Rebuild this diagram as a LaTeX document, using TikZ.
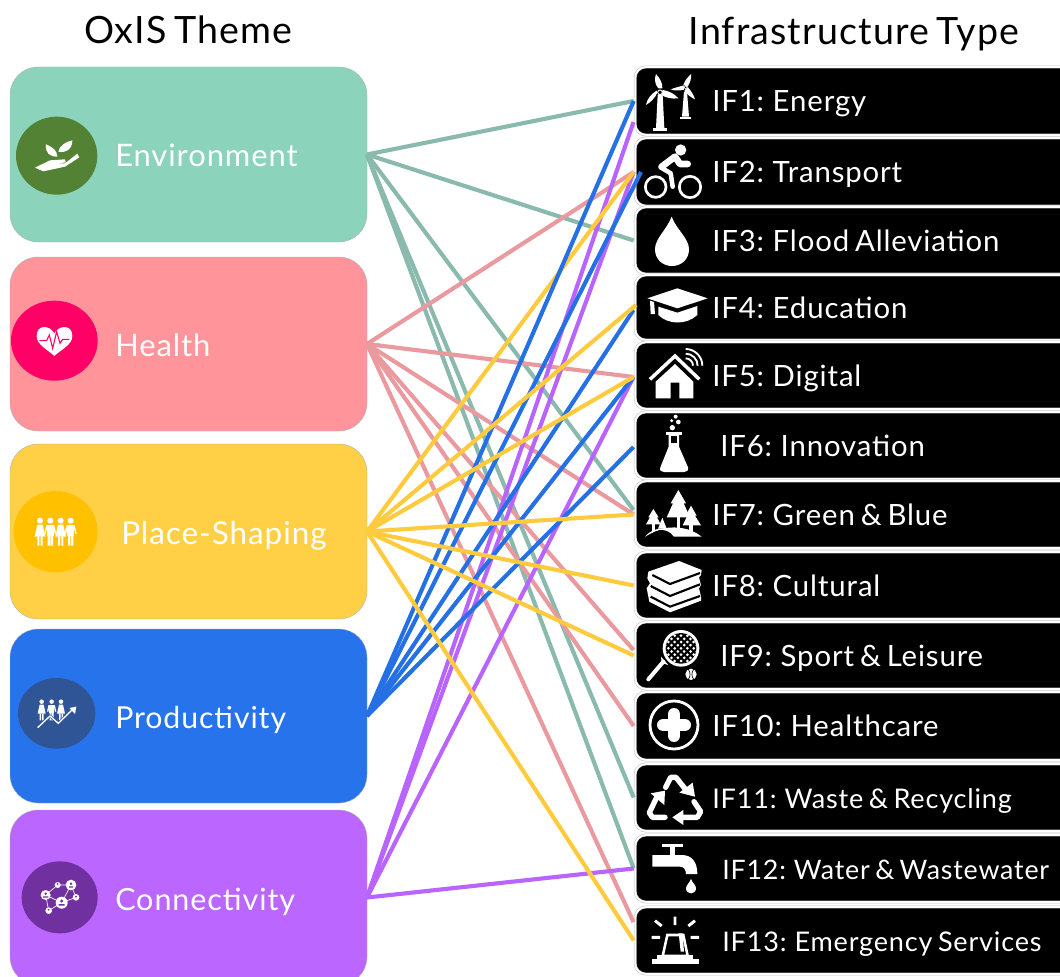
\documentclass[tikz,border=0pt]{standalone}
\usepackage{fontspec}
\setmainfont{Lato}[LetterSpace=3,WordSpace=0.7]
\usetikzlibrary{calc}
\definecolor{envc}{HTML}{8BD3BB}
\definecolor{heac}{HTML}{FF949A}
\definecolor{plac}{HTML}{FFD045}
\definecolor{proc}{HTML}{2673EC}
\definecolor{conc}{HTML}{BB66FF}
\definecolor{envl}{HTML}{8ABAAE}
\definecolor{heal}{HTML}{EA9A9E}
\definecolor{plal}{HTML}{FFCB3E}
\definecolor{prol}{HTML}{2570E5}
\definecolor{conl}{HTML}{B964FF}
\definecolor{envi}{HTML}{548235}
\definecolor{heai}{HTML}{FF0066}
\definecolor{plai}{HTML}{FFC000}
\definecolor{proi}{HTML}{2F5597}
\definecolor{coni}{HTML}{7030A0}
\tikzset{
  themebox/.style={rounded corners=21pt,draw=black!30,line width=.3pt,outer sep=0pt,inner sep=0pt,minimum width=267.75pt},
  ifbox/.style={rounded corners=8pt,fill=black,draw=black!25,double=white,double distance=1.3pt,line width=.4pt,outer sep=1.1pt,inner sep=0pt,minimum width=341pt},
  iflabel/.style={anchor=base west,inner sep=0pt,text=white,font=\fontsize{22}{26}\selectfont},
  themelabel/.style={anchor=base west,inner sep=0pt,text=white,font=\fontsize{23.2}{28}\selectfont},
  titlelabel/.style={anchor=base,inner sep=0pt,text=black,font=\fontsize{28.2}{32}\selectfont},
  link/.style={line width=3.1pt},
  zoomA/.style={shift={(620,60)},x=.25pt,y=-.25pt},
  zoomB/.style={shift={(620,340)},x=.25pt,y=-.25pt},
  zoomC/.style={shift={(620,680)},x=.25pt,y=-.25pt},
  zoomD/.style={shift={(0,100)},x=.25pt,y=-.25pt},
  zoomE/.style={shift={(0,480)},x=.25pt,y=-.25pt},
  icl/.style={draw=white,line cap=round,line join=round},
}
\newcommand\ifitem[5]{% name, black top, black bottom, text x, label
  \node[ifbox,minimum height={(#3-#2+2)*.75pt}] (#1) at (862.5,{(#2+#3)/2}) {};
  \node[iflabel] (#1t) at (#4,{(#2+#3)/2+10.5}) {#5};
}
\newcommand\wom[2]{%
  \fill[white] (#1,#2) circle (9);
  \fill[white] (#1-8,#2+12)--(#1+8,#2+12)--(#1+16,#2+48)--(#1-16,#2+48)--cycle;
  \fill[white] (#1-8,#2+48) rectangle (#1-2,#2+75) (#1+2,#2+48) rectangle (#1+8,#2+75);
}
\newcommand\man[2]{%
  \fill[white] (#1,#2) circle (9);
  \fill[white] (#1-10,#2+12) rectangle (#1+10,#2+46);
  \fill[white] (#1-8,#2+46) rectangle (#1-1,#2+75) (#1+1,#2+46) rectangle (#1+8,#2+75);
  \draw[white,line width=1pt] (#1-10,#2+14)--(#1-16,#2+40) (#1+10,#2+14)--(#1+16,#2+40);
}
\newcommand\qarc[3]{(#1,#2-#3) .. controls (#1+.55*#3,#2-#3) and (#1+#3,#2-.55*#3) .. (#1+#3,#2)}
\begin{document}
\begin{tikzpicture}[x=.75pt,y=-.75pt]
\useasboundingbox (0,0) rectangle (1060,977);
\clip (0,0) rectangle (1060,977);
\node[titlelabel] (titleL) at (188,44) {OxIS Theme};
\node[titlelabel] (titleR) at (854,45) {Infrastructure Type};
% theme boxes
\node[themebox,fill=envc,minimum height=131.25pt] (env) at (188.5,154.5) {};
\node[themebox,fill=heac,minimum height=130.5pt] (hea) at (188.5,344) {};
\node[themebox,fill=plac,minimum height=131.25pt] (pla) at (188.5,531.5) {};
\node[themebox,fill=proc,minimum height=130.5pt] (pro) at (188.5,716) {};
\node[themebox,fill=conc,minimum height=131.25pt] (con) at (188.5,897.5) {};
\node[themelabel] (envt) at (115,167) {Environment};
\node[themelabel] (heat) at (115,356) {Health};
\node[themelabel] (plat) at (121,544) {\fontsize{23.6}{28}\selectfont Place-Shaping};
\node[themelabel] (prot) at (115,728) {\fontsize{22.7}{28}\selectfont Productivity};
\node[themelabel] (cont) at (115,910) {\fontsize{22.9}{28}\selectfont Connectivity};
% infrastructure boxes
\ifitem{ia}{68}{134}{712}{IF1: Energy}
\ifitem{ib}{139}{205}{712}{IF2: Transport}
\ifitem{ic}{208}{273}{712}{IF3: Flood Alleviation}
\ifitem{id}{276}{339}{712}{IF4: Education}
\ifitem{ie}{343}{408}{712}{IF5: Digital}
\ifitem{if}{413}{478}{720}{IF6: Innovation}
\ifitem{ig}{482}{547}{712}{IF7: Green \& Blue}
\ifitem{ih}{553}{618}{712}{IF8: Cultural}
\ifitem{ii}{623}{688}{720}{IF9: Sport \& Leisure}
\ifitem{ij}{693}{759}{712}{IF10: Healthcare}
\ifitem{ik}{765}{830}{712}{\fontsize{20.3}{24}\selectfont IF11: Waste \& Recycling}
\ifitem{il}{836}{901}{722}{\fontsize{20.1}{24}\selectfont IF12: Water \& Wastewater}
\ifitem{im}{908}{973}{722}{\fontsize{20.3}{24}\selectfont IF13: Emergency Services}
% free connector ends
\coordinate (ePurA) at (633.5,122);
\coordinate (eBluB) at (641,172);
\coordinate (eYelD) at (636,305);
\coordinate (eBluD) at (633.5,310);
\coordinate (eE) at (633.5,377);
\coordinate (eF) at (633.5,447);
\coordinate (eTeaG) at (633.5,510);
\coordinate (ePinI) at (633.5,650);
\coordinate (ePinM) at (633.5,922);
% connectors
\draw[link,envl] (env.east)--(ia.west);
\draw[link,envl] (env.east)--(ic.west);
\draw[link,envl] (env.east)--(eTeaG);
\draw[link,envl] (env.east)--(ik.west);
\draw[link,envl] (env.east)--(il.west);
\draw[link,heal] (hea.east)--(ib.west);
\draw[link,heal] (hea.east)--(eE);
\draw[link,heal] (hea.east)--(ig.west);
\draw[link,heal] (hea.east)--(ePinI);
\draw[link,heal] (hea.east)--(ij.west);
\draw[link,heal] (hea.east)--(ePinM);
\draw[link,conl] (con.east)--(ePurA);
\draw[link,conl] (con.east)--(ib.west);
\draw[link,conl] (con.east)--(eE);
\draw[link,conl] (con.east)--(il.west);
\draw[link,plal] (pla.east)--(ib.west);
\draw[link,prol] (pro.east)--(ia.west);
\draw[link,prol] (pro.east)--(eBluB);
\draw[link,prol] (pro.east)--(eBluD);
\draw[link,prol] (pro.east)--(eE);
\draw[link,prol] (pro.east)--(eF);
\draw[link,plal] (pla.east)--(eYelD);
\draw[link,plal] (pla.east)--(eE);
\draw[link,plal] (pla.east)--(ig.west);
\draw[link,plal] (pla.east)--(ih.west);
\draw[link,plal] (pla.east)--(ii.west);
\draw[link,plal] (pla.east)--(im.west);
% icons, right column
\begin{scope}[zoomA]
% wind turbines
\fill[white] (113,105)--(128,105)--(133,205)--(108,205)--cycle;
\fill[white] (100,203) rectangle (142,212);
\fill[white] (115,85) .. controls (102,70) and (104,55) .. (108,42) .. controls (120,55) and (128,70) .. (127,85)--cycle;
\fill[white] (128,90) .. controls (145,92) and (165,102) .. (175,115) .. controls (155,118) and (135,112) .. (124,105)--cycle;
\fill[white] (112,98) .. controls (105,115) and (90,128) .. (78,135) .. controls (80,118) and (95,100) .. (110,92)--cycle;
\draw[white,line width=.7pt,fill=black] (120,97) circle (7);
\fill[white] (192,95)--(201,95)--(207,170)--(186,170)--cycle;
\fill[white] (180,170) rectangle (212,177);
\fill[white] (190,75) .. controls (195,60) and (205,50) .. (213,42) .. controls (215,55) and (210,68) .. (203,80)--cycle;
\fill[white] (204,82) .. controls (212,92) and (222,105) .. (225,118) .. controls (212,112) and (200,102) .. (193,92)--cycle;
\fill[white] (191,76) .. controls (178,80) and (165,83) .. (152,88) .. controls (165,93) and (180,92) .. (192,89)--cycle;
\draw[white,line width=.6pt,fill=black] (197,82) circle (5);
% bike
\fill[white] (182,270) circle (17);
\draw[white,line width=2pt] (107,381) circle (31) (210,381) circle (32);
\draw[icl,line width=5pt] (125,320)--(165,290)--(180,312)--(203,312);
\draw[icl,line width=3.4pt] (122,322)--(152,340)--(158,380);
% drop
\fill[white] (155,470) .. controls (140,510) and (105,535) .. (105,568) .. controls (105,598) and (128,618) .. (156,618) .. controls (184,618) and (207,598) .. (207,568) .. controls (207,535) and (170,510) .. (155,470);
% graduation cap
\fill[white] (82,715)--(172,685)--(263,715)--(172,745)--cycle;
\fill[white] (115,740)--(172,758)--(232,738)--(232,765) .. controls (200,795) and (145,795) .. (115,765)--cycle;
\fill[white] (90,722)--(102,726)--(105,762)--(92,762)--cycle;
\end{scope}
\begin{scope}[zoomB]
% house
\draw[white,line width=2.6pt] (90,118)--(165,48)--(238,118);
\fill[white] (107,125)--(165,72)--(220,125)--(220,175)--(178,175)--(178,128)--(152,128)--(152,175)--(107,175)--cycle;
\draw[white,line width=1.4pt] \qarc{197}{77}{50} \qarc{197}{77}{36} \qarc{197}{77}{22};
% flask
\fill[white] (167,230) circle (6) (155,242) circle (5) (175,246) circle (7) (157,263) circle (8);
\fill[white] (138,276) rectangle (185,284);
\fill[white] (146,284)--(177,284)--(177,320)--(204,382) .. controls (206,392) and (200,396) .. (192,396)--(132,396) .. controls (124,396) and (118,392) .. (121,382)--(146,320)--cycle;
\fill[black] (153,288) rectangle (170,310);
% trees
\fill[white] (175,450)--(198,490)--(191,490)--(210,532)--(140,532)--(159,490)--(152,490)--cycle;
\fill[white] (170,530) rectangle (181,565);
\fill[white] (213,497)--(230,527)--(225,527)--(243,556)--(188,556)--(202,527)--(197,527)--cycle;
\fill[white] (208,555) rectangle (218,572);
\fill[white] (100,507)--(116,532)--(111,532)--(122,553)--(78,553)--(90,532)--(85,532)--cycle;
\fill[white] (95,552) rectangle (105,572);
\fill[white] (127,533)--(140,566)--(114,566)--cycle;
\fill[white] (75,590) .. controls (90,572) and (110,565) .. (130,565) .. controls (150,562) and (200,555) .. (245,590) -- (162,590) .. controls (150,572) and (130,568) .. (118,570) .. controls (100,575) and (90,582) .. (75,590);
% books
\fill[white] (85,695)--(177,663)--(245,690)--(243,705)--(237,712)--(243,735)--(237,745)--(243,770)--(243,782)--(150,817)--(88,785)--(80,745)--(90,730)--(82,715)--cycle;
\draw[black,line width=1.6pt] (97,705)--(150,732)--(240,699);
\draw[black,line width=1.6pt] (92,738)--(150,768)--(240,733);
\draw[black,line width=1.6pt] (92,770)--(150,800)--(240,768);
% racket
\begin{scope}
\fill[white] (183,925) circle (55);
\fill[black] (183,925) circle (46);
\clip (183,925) circle (46);
\foreach \i in {-4,...,4}{\foreach \j in {-4,...,4}{
  \fill[white] ({183+(\i+\j)*9.5},{925+(\i-\j)*9.5}) circle (4.5);
}}
\end{scope}
\draw[white,line width=3pt,line cap=round] (130,965)--(85,1018);
\fill[white] (123,950)--(145,975)--(128,970)--(125,968)--cycle;
\fill[white] (213,1003) circle (17);
\draw[black,line width=.5pt] (205,988) .. controls (212,998) and (212,1008) .. (205,1018) (221,988) .. controls (214,998) and (214,1008) .. (221,1018);
\end{scope}
\begin{scope}[zoomC]
% health cross
\draw[white,line width=2.1pt] (162,135) circle (72);
\draw[white,line width=9.5pt,line cap=round] (130,135)--(194,135) (162,103)--(162,167);
% recycle
\draw[icl,line width=4pt] (137,322)--(152,292)--(168,292)--(198,330);
\fill[white] (178,338)--(218,308)--(225,350)--cycle;
\draw[icl,line width=4pt] (222,365)--(242,395)--(232,412)--(188,412);
\fill[white] (190,390)--(157,412)--(190,435)--cycle;
\draw[icl,line width=4pt] (135,412)--(97,412)--(88,398)--(110,352);
\fill[white] (92,340)--(135,332)--(133,375)--cycle;
% tap
\fill[white] (97,525)--(185,525) .. controls (215,525) and (232,545) .. (232,582)--(198,582) .. controls (198,570) and (192,560) .. (180,560)--(97,560)--cycle;
\fill[white] (150,500) rectangle (166,525);
\fill[white] (125,491) rectangle (190,502);
\fill[white] (213,597) .. controls (208,610) and (198,615) .. (198,625) .. controls (198,645) and (228,645) .. (228,625) .. controls (228,615) and (218,610) .. (213,597);
% beacon
\fill[white] (95,838) rectangle (237,851);
\fill[white] (112,825) rectangle (220,838);
\draw[white,line width=1.9pt,line join=miter] (142,765)--(190,765)--(203,828)--(128,828)--cycle;
\fill[white] (176,760)--(188,760)--(192,815)--(182,815)--cycle;
\draw[white,line width=2.2pt] (165,710)--(165,735) (105,722)--(125,738) (225,722)--(205,738) (95,772)--(120,772) (212,772)--(237,772);
\end{scope}
% icons, left column
\begin{scope}[zoomD]
\fill[envi] (170,167) ellipse (122 and 117);
\fill[white] (105,203)--(150,181)--(195,178)--(197,187)--(170,191)--(195,190)--(232,161)--(238,172)--(195,200)--(130,214)--cycle;
\fill[white] (172,170) .. controls (172,150) and (155,140) .. (138,133) .. controls (135,160) and (150,170) .. (172,170);
\fill[white] (175,155) .. controls (178,135) and (200,125) .. (217,121) .. controls (217,148) and (198,160) .. (175,155);
\fill[heai] (163,722) ellipse (130 and 120);
\fill[white] (163,700) .. controls (150,675) and (110,672) .. (110,708) .. controls (110,735) and (145,750) .. (163,768) .. controls (181,750) and (217,735) .. (217,708) .. controls (217,672) and (176,675) .. (163,700);
\draw[heai,line width=.8pt] (118,722)--(140,722)--(148,705)--(158,745)--(170,695)--(180,730)--(188,718)--(208,718);
\end{scope}
\begin{scope}[zoomE]
\fill[plai] (167,155) ellipse (126 and 122);
\wom{120}{122}\man{151}{122}\wom{182}{122}\man{212}{122}
\fill[proi] (170,700) ellipse (116 and 106);
\begin{scope}[shift={(125,665)},scale=.75]\wom{0}{0}\end{scope}
\begin{scope}[shift={(155,665)},scale=.75]\man{0}{0}\end{scope}
\begin{scope}[shift={(183,665)},scale=.75]\wom{0}{0}\end{scope}
\draw[proi,line width=2pt] (113,743)--(150,708)--(175,730)--(215,690);
\draw[white,line width=1pt] (113,743)--(150,708)--(175,730)--(218,688);
\fill[white] (208,684)--(229,680)--(225,702)--cycle;
\fill[coni] (179,1252) ellipse (114 and 108);
\draw[white,line width=.5pt] (137,1245)--(173,1215)--(213,1215)--(228,1252)--(185,1268)--(146,1292)--(137,1245) (213,1215)--(185,1268) (137,1245)--(185,1268);
\fill[white] (137,1245) circle (15) (173,1215) circle (9) (213,1215) circle (16) (228,1252) circle (10) (185,1268) circle (18) (146,1292) circle (10);
\fill[coni] (137,1241) circle (4) (173,1212) circle (3) (213,1211) circle (4) (228,1250) circle (3) (185,1263) circle (5) (146,1289) circle (3);
\fill[coni] (129,1253) rectangle (145,1249) (207,1223) rectangle (219,1219) (176,1277) rectangle (194,1272);
\end{scope}
\end{tikzpicture}
\end{document}
